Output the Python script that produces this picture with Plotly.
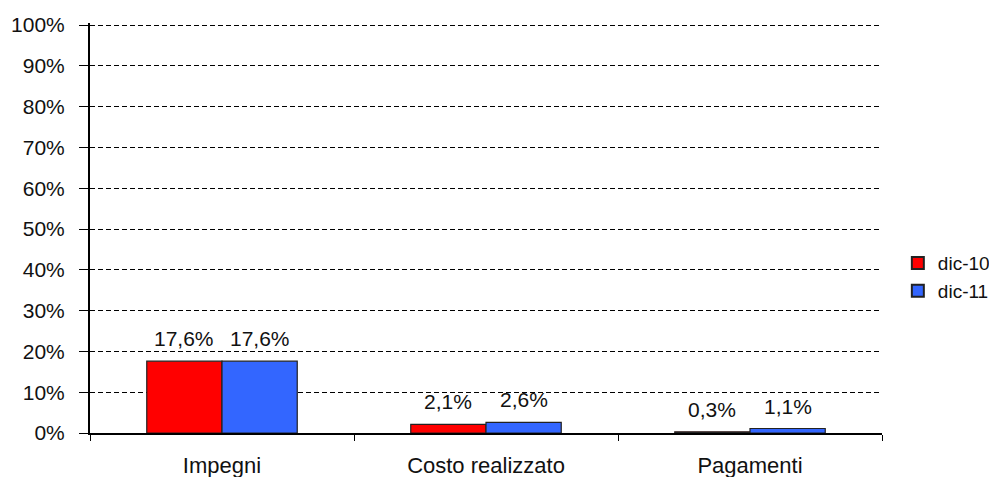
import plotly.graph_objects as go

categories = ["Impegni", "Costo realizzato", "Pagamenti"]
series_names = ["dic-10", "dic-11"]
dic10 = [17.6, 2.1, 0.3]
dic11 = [17.6, 2.6, 1.1]
colors = ["#FF0000", "#3366FF"]
y_ticks = [0, 10, 20, 30, 40, 50, 60, 70, 80, 90, 100]
y_tick_labels = [f"{t}%" for t in y_ticks]

def fmt(v):
    return f"{v:.1f}%".replace(".", ",")

FONT = "Liberation Sans, Arial"
BARGAP = 0.43
# horizontal offset (px) of each bar centre from the category centre
plot_w = 989 - 90 - 107
bar_w = plot_w / len(categories) * (1 - BARGAP) / 2
offsets = [-bar_w / 2, bar_w / 2]

fig = go.Figure()
for name, vals, col in zip(series_names, [dic10, dic11], colors):
    fig.add_trace(go.Bar(
        x=categories, y=vals, name=name,
        marker=dict(color=col, line=dict(color="#222222", width=1.2)),
    ))

for vals, off in zip([dic10, dic11], offsets):
    for cat, v in zip(categories, vals):
        fig.add_annotation(
            x=cat, y=v, xref="x", yref="y", text=fmt(v), showarrow=False,
            xanchor="center", yanchor="bottom", xshift=off, yshift=9,
            font=dict(family=FONT, size=21, color="#111111"),
        )

fig.update_layout(
    barmode="group", bargap=BARGAP, bargroupgap=0,
    width=989, height=477,
    margin=dict(l=90, r=107, t=23, b=44, autoexpand=False),
    plot_bgcolor="white", paper_bgcolor="white",
    font=dict(family=FONT, size=21, color="#111111"),
    legend=dict(x=1.02, y=0.38, xanchor="left", yanchor="middle",
                font=dict(size=19), itemsizing="constant", tracegroupgap=2),
    showlegend=True,
)
fig.update_yaxes(
    range=[0, 100.5], tickmode="array", tickvals=y_ticks, ticktext=y_tick_labels,
    showgrid=True, gridcolor="black", gridwidth=1, griddash="5px,3px",
    showline=True, linecolor="black", linewidth=2,
    ticks="outside", ticklen=9, tickcolor="black", tickwidth=1,
    ticklabelstandoff=10, tickfont=dict(size=21),
    zeroline=False, automargin=False,
)
fig.update_xaxes(
    showline=True, linecolor="black", linewidth=2,
    ticks="outside", tickson="boundaries", ticklen=6, tickcolor="black",
    ticklabelstandoff=12, tickfont=dict(size=22), automargin=False,
    showgrid=False,
)
fig.write_html(
    "out.html",
    config={"displayModeBar": False},
    post_script="document.body.style.margin='0';document.body.style.overflow='hidden';",
)
